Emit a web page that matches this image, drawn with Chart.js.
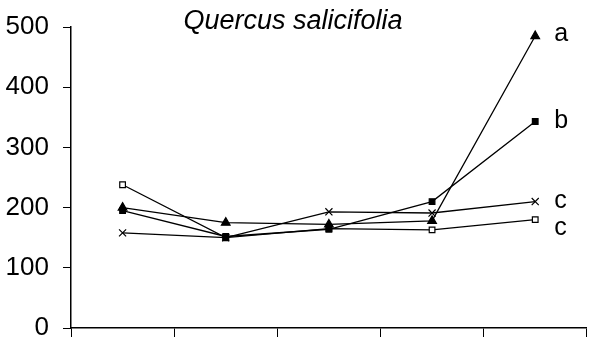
<!DOCTYPE html>
<html>
<head>
<meta charset="utf-8">
<script src="https://cdn.jsdelivr.net/npm/chart.js@4.4.1/dist/chart.umd.min.js"></script>
<style>
  html, body { margin: 0; padding: 0; background: #fff; }
  #wrap { width: 593px; height: 347px; position: relative; }
</style>
</head>
<body>
<div id="wrap"><canvas id="chart"></canvas></div>
<script>
// chart data
const categories = ['', '', '', '', ''];
const seriesA = [200, 175, 172, 178, 485];      // filled triangles
const seriesB = [195, 152, 164, 210, 343];      // filled squares
const seriesC1 = [158, 150, 193, 191, 210];     // crosses
const seriesC2 = [238, 150, 165, 163, 180];     // open squares
const endLabels = ['a', 'b', 'c', 'c'];
const titleText = 'Quercus salicifolia';
const yTicks = [0, 100, 200, 300, 400, 500];

const ctx = document.getElementById('chart').getContext('2d');
const fontFam = '"Liberation Sans", Arial, sans-serif';

function makeSet(data, style, fill) {
    return {
        data: data,
        borderColor: '#000',
        borderWidth: 1.3,
        pointStyle: style,
        pointRadius: style === 'rect' ? 4 : 5,
        pointBackgroundColor: fill,
        pointBorderColor: '#000',
        pointBorderWidth: 1.2,
        tension: 0,
        fill: false
    };
}

// title + letters at the right end of each line
const annotate = {
    id: 'annotate',
    afterDatasetsDraw(chart) {
        const c = chart.ctx;
        c.save();
        c.fillStyle = '#000';
        c.font = 'italic 27px ' + fontFam;
        c.textAlign = 'center';
        c.textBaseline = 'alphabetic';
        c.fillText(titleText, 293, 29);

        c.font = '25px ' + fontFam;
        c.textAlign = 'left';
        c.textBaseline = 'middle';
        const shifts = [-2, 0, 0, 8];
        chart.data.datasets.forEach((ds, i) => {
            const pts = chart.getDatasetMeta(i).data;
            const p = pts[pts.length - 1];
            c.fillText(endLabels[i], p.x + 19, p.y + shifts[i]);
        });
        c.restore();
    }
};

new Chart(ctx, {
    type: 'line',
    data: {
        labels: categories,
        datasets: [
            makeSet(seriesA, 'triangle', '#000'),
            makeSet(seriesB, 'rect', '#000'),
            makeSet(seriesC1, 'crossRot', '#000'),
            makeSet(seriesC2, 'rect', '#fff')
        ]
    },
    options: {
        responsive: true,
        maintainAspectRatio: false,
        animation: false,
        layout: { padding: { top: 0, right: 3, bottom: 0, left: 5 } },
        plugins: {
            legend: { display: false },
            tooltip: { enabled: false }
        },
        scales: {
            x: {
                offset: true,
                afterFit(scale) { scale.height = 19; },
                grid: {
                    offset: true,
                    drawOnChartArea: false,
                    drawTicks: true,
                    tickLength: 9,
                    color: '#000',
                    lineWidth: 1
                },
                border: { color: '#000', width: 1.5 },
                ticks: { display: false }
            },
            y: {
                min: 0,
                max: 500,
                afterBuildTicks(scale) {
                    scale.ticks = yTicks.map(v => ({ value: v }));
                },
                afterFit(scale) {
                    scale.width = 66;
                    scale.paddingTop = 27;
                    scale.paddingBottom = 0;
                },
                grid: {
                    drawOnChartArea: false,
                    drawTicks: true,
                    tickLength: 8,
                    color: '#000'
                },
                border: { color: '#000', width: 1.5 },
                ticks: {
                    color: '#000',
                    padding: 14,
                    font: { family: fontFam, size: 26 }
                }
            }
        }
    },
    plugins: [annotate]
});
</script>
</body>
</html>
